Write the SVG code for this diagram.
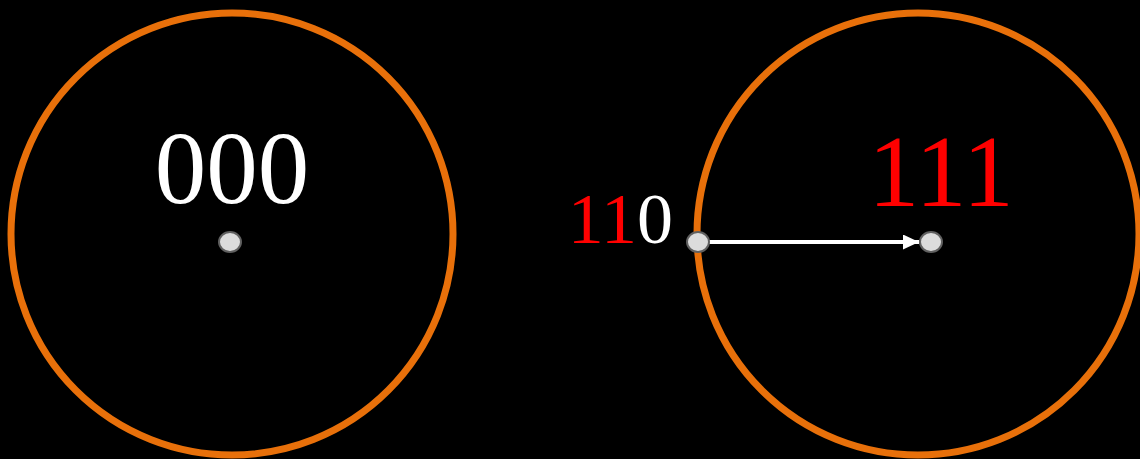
<svg xmlns="http://www.w3.org/2000/svg" width="1140" height="459" viewBox="0 0 1140 459">
<style>
.ring{fill:none;stroke:#e8700a;stroke-width:7}
.dot{fill:#dcdcdc;stroke:#606060;stroke-width:2}
.t{font-family:"Liberation Serif","Times New Roman",serif}
</style>
<defs>
<marker id="ah" viewBox="0 0 16 15" refX="16" refY="7.5" markerWidth="16" markerHeight="15" markerUnits="userSpaceOnUse" orient="auto">
<path d="M0,0 L16,7.5 L0,15 Z" fill="#fff"/>
</marker>
</defs>
<rect width="1140" height="459" fill="#000"/>
<g id="left-set">
<circle class="ring" cx="232" cy="234" r="221"/>
<text class="t" x="232" y="203" font-size="103" fill="#fff" text-anchor="middle">000</text>
<ellipse class="dot" cx="230" cy="242" rx="11" ry="10"/>
</g>
<g id="right-set">
<circle class="ring" cx="918" cy="234" r="221"/>
<text class="t" x="941" y="206" font-size="102" fill="#ff0000" text-anchor="middle">111</text>
</g>
<g id="label-110">
<text class="t" x="673" y="243" font-size="72" text-anchor="end"><tspan fill="#ff0000">11</tspan><tspan fill="#fff">0</tspan></text>
</g>
<g id="connectors">
<line x1="709" y1="242" x2="919" y2="242" stroke="#fff" stroke-width="4" marker-end="url(#ah)"/>
</g>
<g id="dot-110">
<ellipse class="dot" cx="698" cy="242" rx="11" ry="10"/>
</g>
<g id="dot-111">
<ellipse class="dot" cx="931" cy="242" rx="11" ry="10"/>
</g>
</svg>
